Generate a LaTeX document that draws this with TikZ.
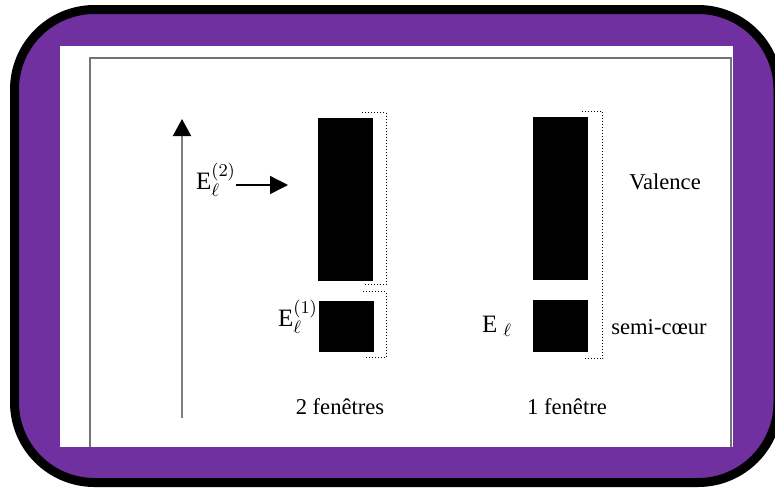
\documentclass[tikz,border=0pt]{standalone}
\usepackage{fontspec}
\setmainfont{Liberation Serif}
\setmathrm{Liberation Serif}
\usetikzlibrary{arrows.meta}
\definecolor{cadre}{HTML}{7030A0}

\begin{document}
\begin{tikzpicture}[x=0.5pt,y=-0.5pt,
  bande/.style={fill=black,draw=black,inner sep=0pt,minimum width=27pt},
  crochet/.style={densely dotted,line width=0.5pt},
  texte/.style={font=\fontsize{11.3}{13}\selectfont,inner sep=0pt},
  niveau/.style={font=\fontsize{12.5}{14}\selectfont,inner sep=0pt},
  fleche/.style={-{Triangle[length=9pt,width=9pt]},line width=0.7pt}]
\useasboundingbox (0,0) rectangle (775,489);
\draw[line width=4.5pt,fill=cadre,rounded corners=40pt] (14.5,9.5) rectangle (778,482.5);
\fill[white] (60,46) rectangle (733,447);
\draw[black!55,line width=0.7pt] (90,447) -- (90,58) -- (731,58) -- (731,447);

% axe des energies
\coordinate (bas) at (182,418);
\coordinate (haut) at (182,119);
\draw[black!50,line width=1pt,-{Triangle[length=8.5pt,width=9pt,black]}] (bas) -- (haut);

% 2 fenetres
\node[bande,minimum height=81pt] (val2) at (345,199) {};
\node[bande,minimum height=25pt] (coeur2) at (346,326) {};
\draw[crochet] ([xshift=-5pt,yshift=2.5pt]val2.north east) -| ([xshift=7pt,yshift=-2pt]val2.south east) -- ++(-10.5pt,0);
\draw[crochet] ([xshift=-5pt,yshift=4.5pt]coeur2.north east) -| ([xshift=6.5pt,yshift=-3pt]coeur2.south east) -- ++(-10.5pt,0);

\node[niveau] (e2) at (216,180) {$\mathrm{E}_\ell^{(2)}$};
\coordinate (pointe) at (288,185);
\draw[fleche] (e2.east |- pointe) -- (pointe);
\node[niveau] (e1) at (298,317) {$\mathrm{E}_\ell^{(1)}$};

% 1 fenetre
\node[bande,minimum height=81pt] (val1) at (560.5,198) {};
\node[bande,minimum height=25.5pt] (coeur1) at (560.5,325.5) {};
\draw[crochet] ([xshift=-3pt,yshift=2.5pt]val1.north east) -| ([xshift=7.5pt,yshift=-3.5pt]coeur1.south east) -- ++(-10pt,0);
\node[niveau] (e) at (497,326) {$\mathrm{E}_{\hspace{3pt}\ell}$};

\node[texte] (valence) at (665,182) {Valence};
\node[texte] (semicoeur) at (659,327) {semi-cœur};
\node[texte] (deux) at (340,407) {2 fenêtres};
\node[texte] (une) at (567,407) {1 fenêtre};
\end{tikzpicture}
\end{document}
